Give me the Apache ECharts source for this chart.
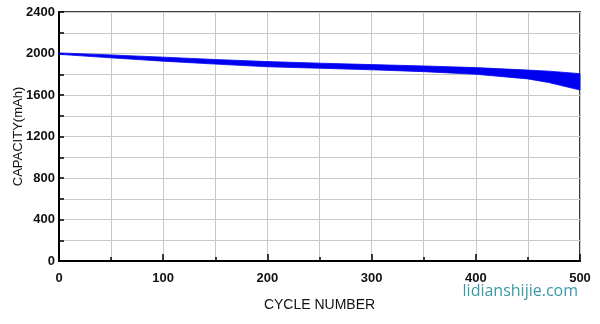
<!DOCTYPE html>
<html><head><meta charset="utf-8">
<script src="https://cdn.jsdelivr.net/npm/echarts@6/dist/echarts.min.js"></script>
<style>html,body{margin:0;padding:0;background:#fff}#c{width:600px;height:324px}</style>
</head><body><div id="c"></div>
<script>
var cycles = [0, 50, 100, 150, 200, 250, 300, 350, 400, 450, 470, 500];
var upperCap = [2006, 1986, 1965, 1942, 1922, 1907, 1893, 1880, 1864, 1840, 1830, 1806];
var lowerCap = [1992, 1958, 1926, 1898, 1872, 1858, 1843, 1825, 1800, 1755, 1720, 1648];
var xTicks = [0, 100, 200, 300, 400, 500];
var yTicks = [0, 400, 800, 1200, 1600, 2000, 2400];

var rows = cycles.map(function(c, i){ return [c, upperCap[i], lowerCap[i]]; });

var chart = echarts.init(document.getElementById('c'), null, {renderer:'canvas'});
var font = 'Arial, "Liberation Sans", sans-serif';
chart.setOption({
  animation: false,
  grid: {left: 59, right: 20, top: 12, bottom: 63, containLabel: false, outerBoundsMode: 'none',
         show: true, borderColor: '#000', borderWidth: 1.5},
  xAxis: {
    type: 'value', min: 0, max: 500, interval: 100,
    name: 'CYCLE NUMBER', nameLocation: 'middle', nameGap: 37,
    nameTextStyle: {fontFamily: font, fontSize: 14, color: '#111'},
    axisLine: {show: true, lineStyle: {color: '#000', width: 2}},
    axisTick: {show: true, inside: true, length: 7, lineStyle: {color: '#000', width: 1.5}},
    minorTick: {show: true, splitNumber: 2, length: 4, lineStyle: {color: '#000', width: 1.5}},
    axisLabel: {fontFamily: font, fontSize: 13, fontWeight: 'bold', color: '#111', margin: 11,
      formatter: function(v){ return xTicks.indexOf(v) >= 0 ? String(v) : ''; }},
    splitLine: {show: true, lineStyle: {color: '#c8c8c8', width: 1}},
    minorSplitLine: {show: true, lineStyle: {color: '#c8c8c8', width: 1}}
  },
  yAxis: {
    type: 'value', min: 0, max: 2400, interval: 400,
    name: 'CAPACITY(mAh)', nameLocation: 'middle', nameGap: 34, nameRotate: 90, nameMoveOverlap: false,
    nameTextStyle: {fontFamily: font, fontSize: 13, color: '#111'},
    axisLine: {show: true, lineStyle: {color: '#000', width: 2}},
    axisTick: {show: true, inside: true, length: 5, lineStyle: {color: '#000', width: 1.5}},
    minorTick: {show: true, splitNumber: 2, length: 5, lineStyle: {color: '#000', width: 1.5}},
    axisLabel: {fontFamily: font, fontSize: 13, fontWeight: 'bold', color: '#111', margin: 4,
      formatter: function(v){ return yTicks.indexOf(v) >= 0 ? String(v) : ''; }},
    splitLine: {show: true, lineStyle: {color: '#c8c8c8', width: 1}},
    minorSplitLine: {show: true, lineStyle: {color: '#c8c8c8', width: 1}}
  },
  graphic: [{
    type: 'text', right: 22, top: 283,
    style: {text: 'lidianshijie.com', fontFamily: '"Open Sans", Arial, sans-serif', fontSize: 16, fill: '#3c9aa6'}
  }],
  series: [{
    type: 'custom', data: rows, encode: {x: 0, y: [1, 2]},
    renderItem: function(params, api){
      if (params.dataIndex !== 0) return null;
      var pts = [];
      for (var i = 0; i < cycles.length; i++) pts.push(api.coord([cycles[i], upperCap[i]]));
      for (var j = cycles.length - 1; j >= 0; j--) pts.push(api.coord([cycles[j], lowerCap[j]]));
      return {type: 'polygon', shape: {points: pts}, style: {fill: '#0000f0', stroke: '#0000f0', lineWidth: 0.8}};
    }
  }]
});
</script></body></html>
